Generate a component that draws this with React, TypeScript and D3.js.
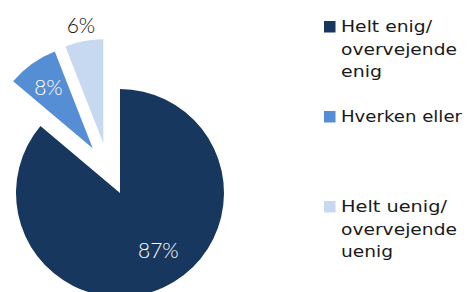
import React from 'react';
import * as d3 from 'd3';

const categories = ['Helt enig/ overvejende enig', 'Hverken eller', 'Helt uenig/ overvejende uenig'];
const legendLines = [['Helt enig/', 'overvejende', 'enig'], ['Hverken eller'], ['Helt uenig/', 'overvejende', 'uenig']];
const values = [87, 8, 6];
const valueLabels = ['87%', '8%', '6%'];
const colors = ['#17375E', '#558ED5', '#C6D9F1'];

const W = 467;
const H = 292;
const cx = 120;
const cy = 193;
const radius = 104;

// Excel-style exploded slices (pixel offset of each slice apex)
const explode: [number, number][] = [[0, 0], [-27.3, -44.7], [-16.7, -49.7]];
const labelRadius = [0.66, 0.73, 1.16];
const labelAngleShift = [-9, 0, 0];
const labelColors = ['#ffffff', '#ffffff', '#111111'];

const legendTops = [21, 111, 201];
// the original font is a wide geometric face, so stretch each line to its width
const legendWidths = [[91, 116, 41], [121], [106, 116, 52]];

const App: React.FC = () => {
  const pie = d3.pie<number>().sort(null).value(d => d);
  const arcs = pie(values);
  const arc = d3.arc<d3.PieArcDatum<number>>().innerRadius(0).outerRadius(radius);

  return (
    <svg width={W} height={H} style={{ position: 'absolute', left: 0, top: 0, background: '#fff' }}>
      <g transform={`translate(${cx},${cy})`}>
        {arcs.map((a, i) => (
          <path
            key={categories[i]}
            d={arc(a) || ''}
            fill={colors[i]}
            transform={`translate(${explode[i][0]},${explode[i][1]})`}
          />
        ))}
        {arcs.map((a, i) => {
          const ang = (a.startAngle + a.endAngle) / 2 + (labelAngleShift[i] * Math.PI) / 180;
          const r = radius * labelRadius[i];
          const x = explode[i][0] + r * Math.sin(ang);
          const y = explode[i][1] - r * Math.cos(ang);
          return (
            <text
              key={'l' + i}
              x={x}
              y={y}
              textAnchor="middle"
              dominantBaseline="central"
              fill={labelColors[i]}
              style={{ fontFamily: 'Lato, sans-serif', fontWeight: 300, fontSize: 21 }}
            >
              {valueLabels[i]}
            </text>
          );
        })}
      </g>
      {legendLines.map((lines, i) => (
        <g key={'lg' + i}>
          <rect x={324} y={legendTops[i]} width={11.5} height={11.5} fill={colors[i]} />
          {lines.map((t, j) => (
            <text
              key={j}
              x={341}
              y={legendTops[i] + 11.3 + j * 22.5}
              fill="#1a1a1a"
              textLength={legendWidths[i][j]}
              lengthAdjust="spacingAndGlyphs"
              style={{ fontFamily: 'DejaVu Sans, sans-serif', fontSize: 15 }}
            >
              {t}
            </text>
          ))}
        </g>
      ))}
    </svg>
  );
};

export default App;
